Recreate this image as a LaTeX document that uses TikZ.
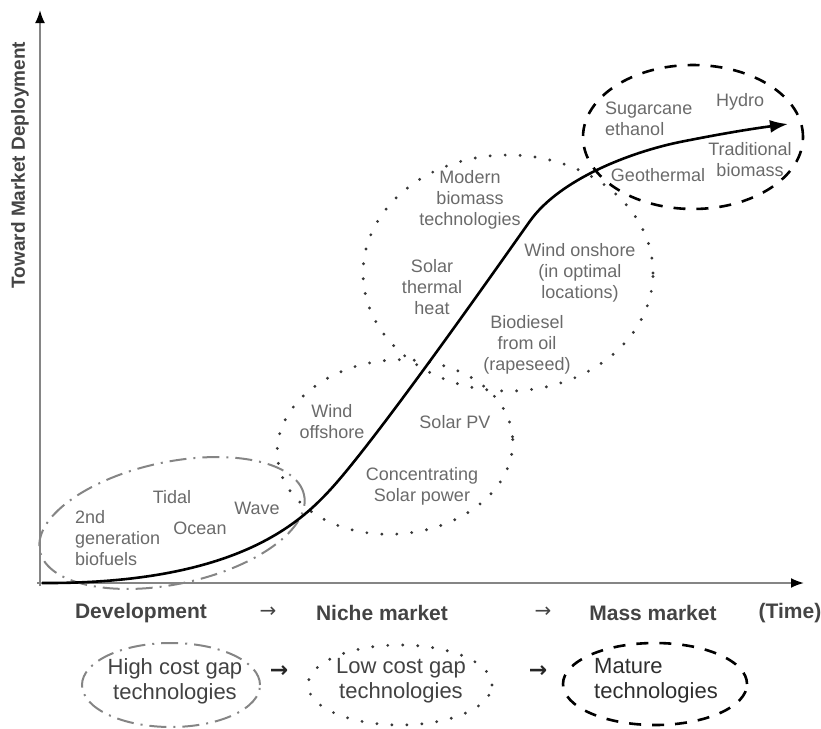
\documentclass[tikz,border=0pt]{standalone}
\usepackage{fontspec}
\setmainfont{Liberation Sans}
\newfontfamily\symfont{DejaVu Sans}
\usetikzlibrary{arrows.meta,shapes.geometric}
\definecolor{txtgray}{HTML}{6A6A6A}
\definecolor{axgray}{HTML}{444444}
\definecolor{leggray}{HTML}{424242}
\definecolor{linegray}{HTML}{858585}
\begin{document}
\begin{tikzpicture}[x=1pt,y=-1pt,
  lbl/.style={font=\fontsize{18}{21}\selectfont, text=txtgray, align=center, inner sep=0pt},
  axlbl/.style={font=\fontsize{21}{24}\selectfont\bfseries, text=axgray, inner sep=0pt},
  leglbl/.style={font=\fontsize{22}{25}\selectfont, text=leggray, align=center, inner sep=0pt},
  arrowtxt/.style={font=\symfont\fontsize{20}{22}\selectfont, text=axgray, inner sep=0pt},
  legarrow/.style={font=\symfont\fontsize{22}{24}\selectfont\bfseries, text=black!85, inner sep=0pt},
  highgap/.style={draw=linegray, line width=2pt, dash pattern=on 17pt off 7pt on 2pt off 7pt},
  lowgap/.style={draw=black!78, line width=3.2pt, line cap=round, dash pattern=on 0pt off 15pt},
  mature/.style={draw=black, line width=2.6pt, dash pattern=on 12pt off 11pt},
  axisline/.style={draw=linegray, line width=2pt, -{Latex[length=13pt,width=10pt,color=black]}},
]
\useasboundingbox (0,0) rectangle (821,728);

% axes
\coordinate (origin) at (40,583);
\coordinate (ytip) at (40,10);
\coordinate (xtip) at (804,583);
\draw[axisline] (40,586) -- (ytip);
\draw[axisline] (37,583) -- (xtip);

% ellipses in diagram
\draw[highgap] (172,523) ellipse [x radius=135pt, y radius=61pt, rotate=12];
\draw[lowgap] (395,447) ellipse [x radius=118pt, y radius=87pt, rotate=5];
\draw[lowgap] (508,273) ellipse [x radius=145pt, y radius=118pt];
\draw[mature] (693,137) ellipse [x radius=110pt, y radius=72pt];

% S-curve
\coordinate (c0) at (42,583);
\coordinate (c1) at (330,490);
\coordinate (c2) at (530,221);
\coordinate (c3) at (680,142);
\coordinate (c4) at (788,124);
\draw[line width=2.6pt, -{Latex[length=18pt,width=13pt]}]
  (c0) .. controls (230,584) and (296,527) .. (c1)
       .. controls (378,438) and (510,249) .. (c2)
       .. controls (560,179) and (631,152) .. (c3)
       .. controls (720,134) and (750,129) .. (c4);

% labels in diagram
\node[lbl, align=left, anchor=west] (biof) at (75,538) {2nd\\generation\\biofuels};
\node[lbl] (tidal) at (172,497) {Tidal};
\node[lbl] (ocean) at (200,528) {Ocean};
\node[lbl] (wave) at (257,508) {Wave};
\node[lbl] (windoff) at (332,422) {Wind\\offshore};
\node[lbl] (solarpv) at (455,422) {Solar PV};
\node[lbl] (csp) at (422,486) {Concentrating\\Solar power};
\node[lbl] (modern) at (470,200) {Modern\\biomass\\technologies};
\node[lbl] (solarth) at (432,287) {Solar\\thermal\\heat};
\node[lbl] (windon) at (580,273) {Wind onshore\\(in optimal\\locations)};
\node[lbl] (biodiesel) at (527,345) {Biodiesel\\from oil\\(rapeseed)};
\node[lbl, align=left, anchor=west] (sugar) at (605,119) {Sugarcane\\ethanol};
\node[lbl] (hydro) at (740,102) {Hydro};
\node[lbl] (tradbio) at (750,160) {Traditional\\biomass};
\node[lbl] (geo) at (658,175) {Geothermal};

% axis labels
\node[axlbl, font=\fontsize{19}{22}\selectfont\bfseries, rotate=90] (ylabel) at (20,165) {Toward Market Deployment};
\node[axlbl] (dev) at (141,613) {Development};
\node[arrowtxt] (a1) at (268,612) {→};
\node[axlbl] (niche) at (382,613) {Niche market};
\node[arrowtxt] (a2) at (543,612) {→};
\node[axlbl] (mass) at (653,613) {Mass market};
\node[axlbl] (time) at (790,613) {(Time)};

% legend
\draw[highgap] (171,685) ellipse [x radius=89pt, y radius=42pt];
\draw[lowgap] (400,685) ellipse [x radius=92pt, y radius=40pt];
\draw[mature] (655,684) ellipse [x radius=92pt, y radius=41pt];
\node[leglbl] (hc) at (175,681) {High cost gap\\technologies};
\node[leglbl] (lc) at (401,681) {Low cost gap\\technologies};
\node[leglbl, align=left, text=black!82] (mt) at (656,681) {Mature\\technologies};
\node[legarrow] (la1) at (279,672) {→};
\node[legarrow] (la2) at (538,672) {→};
\end{tikzpicture}
\end{document}
